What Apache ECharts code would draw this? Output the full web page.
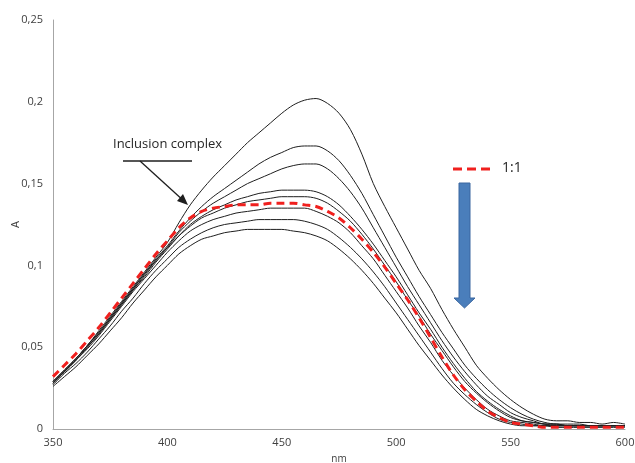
<!DOCTYPE html>
<html>
<head>
<meta charset="utf-8">
<script src="https://cdn.jsdelivr.net/npm/echarts@6/dist/echarts.min.js"></script>
<style>html,body{margin:0;padding:0;background:#fff}#c{width:635px;height:463px}</style>
</head>
<body>
<div id="c"></div>
<script>
const wavelengths = [350,355,360,365,370,375,380,385,390,395,400,405,410,415,420,425,430,435,440,445,450,455,460,465,470,475,480,485,490,495,500,505,510,515,520,525,530,535,540,545,550,555,560,565,570,575,580,585,590,595,600];
const xTicks = [350,400,450,500,550,600];
const yTicks = [0,0.05,0.1,0.15,0.2,0.25];

const curve1 = [.029,.036,.043,.051,.060,.069,.078,.087,.096,.105,.114,.126,.137,.146,.154,.161,.168,.175,.181,.187,.193,.198,.201,.202,.199,.193,.183,.168,.150,.136,.123,.110,.097,.086,.073,.061,.050,.039,.031,.024,.018,.013,.009,.006,.005,.005,.004,.004,.003,.004,.003];
const curve2 = [.029,.036,.043,.051,.059,.068,.077,.086,.095,.104,.112,.121,.129,.136,.142,.147,.152,.157,.162,.166,.169,.172,.173,.173,.170,.164,.155,.144,.131,.118,.105,.093,.081,.070,.059,.049,.039,.031,.024,.018,.013,.009,.006,.004,.003,.003,.003,.002,.002,.002,.002];
const curve3 = [.028,.035,.042,.050,.058,.067,.076,.085,.094,.103,.111,.120,.127,.133,.138,.142,.146,.150,.153,.156,.159,.161,.162,.162,.159,.153,.145,.135,.123,.111,.099,.087,.076,.065,.054,.044,.035,.027,.020,.015,.010,.007,.005,.003,.003,.002,.002,.002,.002,.002,.002];
const curve4 = [.028,.035,.042,.050,.058,.067,.076,.085,.093,.102,.110,.118,.125,.130,.134,.137,.140,.142,.144,.145,.146,.146,.146,.145,.142,.137,.130,.122,.113,.103,.093,.082,.071,.061,.050,.040,.031,.023,.017,.012,.008,.005,.004,.003,.003,.002,.002,.002,.002,.002,.002];
const curve5 = [.029,.036,.043,.051,.059,.068,.077,.086,.095,.103,.111,.118,.124,.129,.132,.135,.137,.139,.140,.141,.142,.142,.142,.141,.138,.133,.127,.119,.110,.100,.090,.079,.069,.058,.048,.038,.029,.022,.016,.011,.007,.005,.004,.003,.002,.002,.002,.002,.002,.002,.002];
const curve6 = [.028,.035,.042,.049,.057,.066,.075,.084,.092,.100,.108,.115,.121,.125,.128,.130,.132,.133,.134,.135,.135,.135,.135,.133,.130,.126,.120,.112,.104,.094,.084,.074,.063,.053,.042,.033,.025,.018,.012,.008,.005,.004,.003,.002,.002,.002,.002,.002,.002,.002,.002];
const curve7 = [.027,.034,.040,.047,.055,.063,.072,.080,.089,.097,.104,.111,.116,.120,.123,.125,.126,.127,.128,.128,.128,.128,.127,.125,.122,.117,.111,.104,.096,.087,.077,.067,.057,.047,.037,.028,.021,.015,.010,.006,.004,.003,.002,.002,.002,.002,.002,.002,.002,.002,.002];
const curve8 = [.026,.032,.038,.045,.052,.060,.068,.077,.085,.093,.100,.107,.112,.116,.118,.120,.121,.122,.122,.122,.122,.121,.120,.118,.115,.110,.104,.097,.089,.080,.071,.061,.051,.042,.033,.025,.018,.012,.008,.005,.003,.002,.002,.002,.001,.001,.001,.001,.001,.001,.001];
const ratio11 = [.032,.039,.046,.054,.062,.071,.080,.089,.098,.107,.115,.123,.129,.133,.135,.136,.137,.137,.137,.138,.138,.138,.137,.136,.133,.129,.123,.116,.108,.099,.089,.079,.068,.056,.044,.033,.024,.017,.011,.007,.004,.003,.002,.001,.001,.001,.001,.001,.001,.001,.001];

const blackCurves = [curve1,curve2,curve3,curve4,curve5,curve6,curve7,curve8];
const legendLabel = '1:1';
const annotationText = 'Inclusion complex';

const chart = echarts.init(document.getElementById('c'));
const toPairs = arr => wavelengths.map((w,i)=>[w,arr[i]]);
const font = 'Open Sans, Noto Sans, sans-serif';

const series = blackCurves.map(c => ({
  type:'line', data: toPairs(c), showSymbol:false, smooth:0.3,
  lineStyle:{color:'#1e1e1e', width:1}, silent:true, z:2
}));
series.push({
  type:'line', name: legendLabel, data: toPairs(ratio11), showSymbol:false, smooth:0.3,
  lineStyle:{color:'#f0201e', width:3, type:[8,5]}, z:5, silent:true
});

chart.setOption({
  animation:false,
  grid:{left:53, right:10, top:20, bottom:34, containLabel:false, outerBoundsMode:'none'},
  xAxis:{
    type:'value', min:xTicks[0], max:xTicks[xTicks.length-1], interval:50,
    name:'nm', nameLocation:'middle', nameGap:25, nameMoveOverlap:false,
    nameTextStyle:{fontFamily:font, fontSize:10, color:'#404040'},
    axisLine:{lineStyle:{color:'#a6a6a6'}}, axisTick:{show:false}, splitLine:{show:false},
    axisLabel:{fontFamily:font, fontSize:11, color:'#404040', margin:8}
  },
  yAxis:{
    type:'value', min:yTicks[0], max:yTicks[yTicks.length-1], interval:0.05,
    name:'A', nameLocation:'middle', nameGap:32, nameRotate:90, nameMoveOverlap:false,
    nameTextStyle:{fontFamily:font, fontSize:11, color:'#404040'},
    axisLine:{show:true, lineStyle:{color:'#a6a6a6'}}, axisTick:{show:false}, splitLine:{show:false},
    axisLabel:{fontFamily:font, fontSize:11, color:'#404040', margin:10,
      formatter: v => String(Math.round(v*100)/100).replace('.', ',')}
  },
  series: series,
  graphic:[
    {type:'text', left:113, top:138, style:{text:annotationText, fontFamily:font, fontSize:13, fill:'#262626'}},
    {type:'line', shape:{x1:123, y1:161, x2:192, y2:161}, style:{stroke:'#1e1e1e', lineWidth:1.5}},
    {type:'line', shape:{x1:140, y1:161, x2:185, y2:202}, style:{stroke:'#1e1e1e', lineWidth:1.3}},
    {type:'polygon', shape:{points:[[188,205],[177,201],[183,194]]}, style:{fill:'#1e1e1e'}},
    {type:'line', shape:{x1:453, y1:169, x2:492, y2:169}, style:{stroke:'#f0201e', lineWidth:3, lineDash:[9,5]}},
    {type:'text', left:502, top:161, style:{text:legendLabel, fontFamily:font, fontSize:14, fill:'#262626'}},
    {type:'polygon', shape:{points:[[459,183],[470,183],[470,298],[475,298],[464.5,308],[454,298],[459,298]]},
      style:{fill:'#4a7ebb', stroke:'#3a66a0', lineWidth:1}}
  ]
});
</script>
</body>
</html>
